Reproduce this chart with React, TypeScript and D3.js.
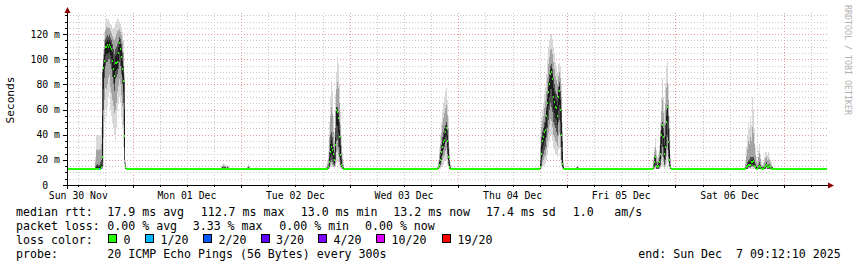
import React from "react";
import * as d3 from "d3";

// ---------- data ----------
const T_START = "2025-11-30 09:30";
const T_END = "2025-12-07 09:30";
const STEP_SECONDS = 795.79;
const BASE_MEDIAN = 13.0;
const Y_MAX = 136.8;
const Y_LABEL_TICKS = [0, 20, 40, 60, 80, 100, 120];

const lossLabels = ["0", "1/20", "2/20", "3/20", "4/20", "10/20", "19/20"];
const lossColors = ["#26ff00", "#00b8ff", "#0059ff", "#5e00ff", "#7e00ff", "#dd00ff", "#ff0000"];

// per-burst samples: median, min, lower-quartile, upper-quartile, max (ms)
const b0aStart = "2025-12-01 19:32";
const b0aMed = [13, 13, 13, 13, 13, 13, 13, 13, 13];
const b0aLo = [13, 13, 13, 13, 13, 13, 13, 13, 13];
const b0aQ1 = [13, 13, 13, 13, 13, 13, 13, 13, 13];
const b0aQ3 = [13.5, 14, 14, 14, 14, 13.5, 14, 13.5, 13.5];
const b0aHi = [15, 16, 17.5, 17, 16, 15, 16, 15, 14];

const b0bStart = "2025-12-02 01:17";
const b0bMed = [13, 13, 13];
const b0bLo = [13, 13, 13];
const b0bQ1 = [13, 13, 13];
const b0bQ3 = [13.5, 14, 13.5];
const b0bHi = [15, 17, 15];

const b0cStart = "2025-12-05 02:01";
const b0cMed = [13, 13, 13];
const b0cLo = [13, 13, 13];
const b0cQ1 = [13, 13, 13];
const b0cQ3 = [13.5, 14, 13.5];
const b0cHi = [14.5, 16, 14.5];

const b1Start = "2025-11-30 15:41";
const b1Med = [13, 13, 13, 13, 13, 13, 14, 22, 93, 99, 110, 110, 111, 110, 111, 110, 108, 99, 92, 87, 97, 97, 98, 105, 113, 108, 102, 92, 83, 39, 14, 13];
const b1Lo = [13, 13, 13, 13, 13, 13, 13, 13, 14, 50, 60, 55, 62, 70, 75, 60, 55, 50, 45, 40, 36, 45, 60, 65, 70, 65, 55, 45, 30, 14, 13, 13];
const b1Q1 = [13, 13, 13, 13, 13, 13, 13, 14, 60, 85, 95, 98, 98, 100, 100, 96, 92, 86, 80, 75, 84, 86, 88, 92, 98, 95, 88, 80, 65, 20, 13, 13];
const b1Q3 = [14, 16, 17, 16, 16, 18, 20, 90, 100, 108, 116, 118, 119, 118, 119, 117, 115, 112, 108, 104, 108, 110, 112, 114, 118, 116, 112, 106, 95, 82, 16, 13];
const b1Hi = [22, 40, 40, 40, 40, 40, 46, 95, 108, 122, 130, 133, 131, 132, 130, 128, 127, 125, 124, 126, 128, 130, 133, 131, 130, 128, 126, 122, 115, 90, 20, 14];
const b1Loss = [0, 0, 0, 0, 1, 0, 0, 0, 0, 0, 0, 0, 0, 0, 0, 0, 0, 0, 0, 0, 0, 0, 0, 0, 0, 0, 0, 0, 0, 0, 0, 0];

const b2Start = "2025-12-02 18:45";
const b2Med = [13, 13, 14, 18, 26, 30, 28, 25, 20, 32, 60, 58, 53, 38, 24, 16, 14, 13];
const b2Lo = [13, 13, 13, 13, 14, 15, 14, 14, 13, 14, 18, 20, 18, 15, 13, 13, 13, 13];
const b2Q1 = [13, 13, 13, 14, 18, 20, 18, 17, 15, 20, 35, 36, 30, 22, 16, 14, 13, 13];
const b2Q3 = [13, 14, 16, 26, 40, 42, 38, 30, 26, 45, 62, 62, 58, 50, 38, 24, 16, 14];
const b2Hi = [16, 20, 26, 50, 70, 82, 75, 55, 42, 72, 90, 102, 96, 80, 58, 40, 26, 18];

const b3Start = "2025-12-03 19:17";
const b3Med = [13, 14, 16, 20, 26, 30, 34, 36, 42, 45, 35, 22, 14, 13];
const b3Lo = [13, 13, 13, 13, 14, 15, 16, 18, 20, 20, 16, 14, 13, 13];
const b3Q1 = [13, 13, 14, 16, 20, 24, 28, 30, 34, 35, 25, 17, 13, 13];
const b3Q3 = [13, 15, 20, 26, 32, 38, 42, 45, 48, 50, 44, 35, 20, 14];
const b3Hi = [15, 20, 30, 40, 50, 58, 65, 70, 75, 77, 68, 55, 30, 18];

const b4Start = "2025-12-04 17:50";
const b4Med = [13, 14, 25, 35, 38, 42, 44, 55, 65, 74, 80, 88, 90, 84, 70, 66, 62, 61, 55, 70, 75, 60, 40, 17, 13];
const b4Lo = [13, 13, 13, 14, 15, 16, 17, 20, 25, 30, 35, 40, 40, 35, 30, 28, 25, 25, 22, 28, 30, 20, 14, 13, 13];
const b4Q1 = [13, 13, 15, 22, 25, 28, 30, 38, 45, 52, 60, 65, 62, 58, 50, 48, 45, 42, 40, 50, 52, 40, 20, 14, 13];
const b4Q3 = [13, 20, 38, 42, 45, 50, 55, 62, 72, 82, 88, 95, 96, 92, 85, 80, 75, 72, 70, 78, 82, 75, 60, 35, 15];
const b4Hi = [14, 40, 55, 60, 65, 72, 78, 88, 100, 110, 115, 119, 120, 116, 110, 105, 98, 95, 90, 96, 97, 95, 80, 50, 20];

const b5Start = "2025-12-05 18:49";
const b5Med = [13, 14, 18, 22, 15, 14, 15, 18, 25, 40, 48, 38, 25, 30, 50, 62, 34, 20, 14, 13];
const b5Lo = [13, 13, 13, 13, 13, 13, 13, 13, 13, 14, 15, 14, 13, 14, 16, 18, 14, 13, 13, 13];
const b5Q1 = [13, 13, 14, 15, 13, 13, 13, 14, 16, 25, 30, 22, 16, 20, 30, 38, 22, 15, 13, 13];
const b5Q3 = [13, 16, 22, 24, 18, 16, 18, 22, 38, 48, 50, 45, 38, 48, 60, 64, 55, 35, 16, 13];
const b5Hi = [14, 22, 30, 37, 28, 22, 25, 32, 50, 70, 85, 70, 60, 81, 95, 99, 80, 55, 25, 14];

const b6Start = "2025-12-06 15:09";
const b6Med = [13, 13, 14, 15, 16, 16, 16, 18, 18, 19, 15, 14, 13, 13, 14, 15, 14, 13, 13, 13, 14, 15, 16, 14, 14, 15, 14, 13, 13];
const b6Lo = [13, 13, 13, 13, 13, 13, 13, 13, 13, 13, 13, 13, 13, 13, 13, 13, 13, 13, 13, 13, 13, 13, 13, 13, 13, 13, 13, 13, 13];
const b6Q1 = [13, 13, 13, 13, 14, 14, 14, 15, 15, 15, 14, 13, 13, 13, 13, 13, 13, 13, 13, 13, 13, 13, 14, 13, 13, 13, 13, 13, 13];
const b6Q3 = [13, 14, 16, 18, 20, 21, 22, 22, 22, 22, 20, 17, 15, 14, 16, 18, 16, 14, 14, 14, 15, 17, 18, 16, 16, 17, 15, 14, 14];
const b6Hi = [14, 20, 30, 40, 50, 45, 54, 48, 70, 60, 45, 30, 22, 20, 28, 33, 25, 18, 16, 18, 22, 26, 26, 24, 26, 22, 20, 18, 15];

const bursts = [
  { start: b0aStart, med: b0aMed, lo: b0aLo, q1: b0aQ1, q3: b0aQ3, hi: b0aHi },
  { start: b0bStart, med: b0bMed, lo: b0bLo, q1: b0bQ1, q3: b0bQ3, hi: b0bHi },
  { start: b0cStart, med: b0cMed, lo: b0cLo, q1: b0cQ1, q3: b0cQ3, hi: b0cHi },
  { start: b1Start, med: b1Med, lo: b1Lo, q1: b1Q1, q3: b1Q3, hi: b1Hi, loss: b1Loss },
  { start: b2Start, med: b2Med, lo: b2Lo, q1: b2Q1, q3: b2Q3, hi: b2Hi },
  { start: b3Start, med: b3Med, lo: b3Lo, q1: b3Q1, q3: b3Q3, hi: b3Hi },
  { start: b4Start, med: b4Med, lo: b4Lo, q1: b4Q1, q3: b4Q3, hi: b4Hi },
  { start: b5Start, med: b5Med, lo: b5Lo, q1: b5Q1, q3: b5Q3, hi: b5Hi },
  { start: b6Start, med: b6Med, lo: b6Lo, q1: b6Q1, q3: b6Q3, hi: b6Hi },
];

const legendRtt = [
  ["median rtt:", 16], ["17.9 ms avg", 107.3], ["112.7 ms max", 200.7], ["13.0 ms min", 300.7],
  ["13.2 ms now", 393.3], ["17.4 ms sd", 486], ["1.0", 572.7], ["am/s", 614.3],
] as [string, number][];
const legendLoss = [
  ["packet loss:", 16], ["0.00 % avg", 107.3], ["3.33 % max", 192.7], ["0.00 % min", 279.3], ["0.00 % now", 365],
] as [string, number][];
const swatchX = [108.5, 145.5, 203.5, 261, 318.5, 376.5, 442.5];
const probeText = "20 ICMP Echo Pings (56 Bytes) every 300s";
const endText = "end: Sun Dec\u00a0\u00a07 09:12:10 2025";

// ---------- layout ----------
const W = 857, H = 267;
const PL = 67, PR = 827, PT = 13, PB = 185;
const MONO = "'DejaVu Sans Mono', monospace";

const parse = d3.utcParse("%Y-%m-%d %H:%M");

export default function App() {
  const t0 = parse(T_START)!;
  const t1 = parse(T_END)!;
  const x = d3.scaleUtc().domain([t0, t1]).range([PL, PR]);
  const y = d3.scaleLinear().domain([0, Y_MAX]).range([PB, PT]);
  const stepMs = STEP_SECONDS * 1000;

  const minorH = d3.range(5, Y_MAX, 5).filter((v) => v % 20 !== 0);
  const majorH = d3.range(20, Y_MAX, 20);
  const sixH = d3.utcHour.every(6)!.range(t0, t1).filter((d) => d.getUTCHours() !== 0);
  const days = d3.utcDay.range(t0, t1);
  const noons = d3.utcHour.every(12)!.range(t0, t1).filter((d) => d.getUTCHours() === 12);
  const fmtDay = d3.utcFormat("%a %d %b");

  // burst intervals to find baseline gaps
  const intervals = bursts
    .map((b) => {
      const s = parse(b.start)!;
      return [s.getTime(), s.getTime() + b.med.length * stepMs];
    })
    .sort((a, b) => a[0] - b[0]);
  const gaps: [number, number][] = [];
  let cur = t0.getTime();
  intervals.forEach(([s, e]) => {
    if (s > cur) gaps.push([cur, s]);
    cur = Math.max(cur, e);
  });
  if (cur < t1.getTime()) gaps.push([cur, t1.getTime()]);

  const cols: React.ReactNode[] = [];
  const meds: React.ReactNode[] = [];
  bursts.forEach((b, bi) => {
    const s = parse(b.start)!.getTime();
    b.med.forEach((m, i) => {
      const xa = x(new Date(s + i * stepMs));
      const xb = x(new Date(s + (i + 1) * stepMs));
      const w = Math.max(1, xb - xa);
      const lo = b.lo[i], q1 = b.q1[i], q3 = b.q3[i], hi = b.hi[i];
      const layers: [number, number, string][] = [
        [lo, hi, "#d8d8d8"],
        [(lo + q1) / 2, (q3 + hi) / 2, "#a4a4a4"],
        [q1, q3, "#505050"],
        [m - (m - q1) / 2, m + (q3 - m) / 2, "#1c1c1c"],
      ];
      layers.forEach(([a, c, col], li) => {
        if (c - a <= 0) return;
        cols.push(
          <rect key={`s${bi}-${i}-${li}`} x={xa} width={w} y={y(c)} height={y(a) - y(c)} fill={col} />
        );
      });
      const lossIdx = b.loss ? b.loss[i] : 0;
      meds.push(
        <rect key={`m${bi}-${i}`} x={xa} width={w} y={y(m) - 1} height={2} fill={lossColors[lossIdx]} />
      );
    });
  });

  return (
    <svg
      width={W}
      height={H}
      style={{ position: "absolute", left: 0, top: 0, background: "#fff" }}
      fontFamily={MONO}
    >
      <rect x={0} y={0} width={W} height={H} fill="#fff" />
      {/* grid */}
      <g shapeRendering="crispEdges" strokeDasharray="1,2">
        {minorH.map((v) => (
          <line key={`mh${v}`} x1={PL} x2={PR} y1={Math.round(y(v)) + 0.5} y2={Math.round(y(v)) + 0.5} stroke="#c8c8c8" />
        ))}
        {sixH.map((d) => (
          <line key={`mv${+d}`} x1={Math.round(x(d)) + 0.5} x2={Math.round(x(d)) + 0.5} y1={PT} y2={PB} stroke="#c8c8c8" />
        ))}
        {majorH.map((v) => (
          <line key={`Mh${v}`} x1={PL} x2={PR} y1={Math.round(y(v)) + 0.5} y2={Math.round(y(v)) + 0.5} stroke="#e89a9a" />
        ))}
        {days.map((d) => (
          <line key={`Mv${+d}`} x1={Math.round(x(d)) + 0.5} x2={Math.round(x(d)) + 0.5} y1={PT} y2={PB} stroke="#e89a9a" />
        ))}
      </g>
      {/* smoke */}
      <g shapeRendering="crispEdges">{cols}</g>
      {/* baseline median */}
      <g shapeRendering="crispEdges">
        {gaps.map(([a, b], i) => (
          <rect key={`g${i}`} x={x(new Date(a))} width={x(new Date(b)) - x(new Date(a))} y={y(BASE_MEDIAN) - 1} height={2} fill={lossColors[0]} />
        ))}
        {meds}
      </g>
      {/* axes */}
      <g shapeRendering="crispEdges" stroke="#000">
        <line x1={63} x2={829} y1={PB + 0.5} y2={PB + 0.5} />
        <line x1={PL + 0.5} x2={PL + 0.5} y1={PT - 1} y2={189} />
        {Y_LABEL_TICKS.map((v) => (
          <line key={`yt${v}`} x1={63} x2={PL} y1={Math.round(y(v)) + 0.5} y2={Math.round(y(v)) + 0.5} />
        ))}
        {minorH.map((v) => (
          <line key={`ytm${v}`} x1={65} x2={PL} y1={Math.round(y(v)) + 0.5} y2={Math.round(y(v)) + 0.5} />
        ))}
        {days.map((d) => (
          <line key={`xt${+d}`} x1={Math.round(x(d)) + 0.5} x2={Math.round(x(d)) + 0.5} y1={PB} y2={PB + 3} />
        ))}
        {sixH.map((d) => (
          <line key={`xtm${+d}`} x1={Math.round(x(d)) + 0.5} x2={Math.round(x(d)) + 0.5} y1={PB} y2={PB + 2} />
        ))}
      </g>
      <path d={`M${PL + 0.5 - 3},${PT} L${PL + 0.5 + 3},${PT} L${PL + 0.5},${PT - 6} Z`} fill="#8b0000" />
      <path d={`M${828},${PB + 0.5 - 3} L${828},${PB + 0.5 + 3} L${834},${PB + 0.5} Z`} fill="#8b0000" />
      {/* y labels */}
      <g fontSize={9.8} fill="#000">
        {Y_LABEL_TICKS.map((v) => (
          <text key={`yl${v}`} x={60} y={y(v) + 3.5} textAnchor="end">
            {v === 0 ? "0\u00a0\u00a0" : `${v} m`}
          </text>
        ))}
        {noons.map((d) => (
          <text key={`xl${+d}`} x={x(d)} y={198.5} textAnchor="middle">
            {fmtDay(d)}
          </text>
        ))}
      </g>
      <text transform="translate(14,100) rotate(-90)" textAnchor="middle" fontSize={11.2} fill="#000">
        Seconds
      </text>
      <text transform="translate(844.5,5) rotate(90)" textAnchor="start" fontSize={8.3} fill="#b0b0b0">
        RRDTOOL / TOBI OETIKER
      </text>
      {/* legend */}
      <g fontSize={11.6} fill="#000">
        {legendRtt.map(([s, px]) => (
          <text key={`r${s}`} x={px} y={215.5}>{s}</text>
        ))}
        {legendLoss.map(([s, px], i) => (
          <text key={`l${i}`} x={px} y={229.5}>{s}</text>
        ))}
        <text x={16} y={243.5}>loss color:</text>
        {lossLabels.map((s, i) => (
          <g key={`sw${i}`}>
            <rect x={swatchX[i]} y={234.5} width={8} height={8} fill={lossColors[i]} stroke="#000" strokeWidth={1} shapeRendering="crispEdges" />
            <text x={swatchX[i] + 15} y={243.5}>{s}</text>
          </g>
        ))}
        <text x={16} y={257.5}>probe:</text>
        <text x={107.3} y={257.5}>{probeText}</text>
        <text x={638.3} y={257.5}>{endText}</text>
      </g>
    </svg>
  );
}
